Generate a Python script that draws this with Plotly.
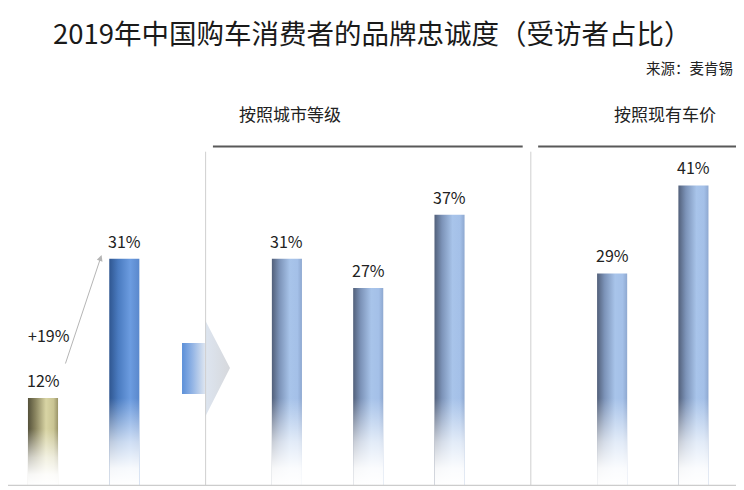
import plotly.graph_objects as go

# ---- data -----------------------------------------------------------------
TITLE = "2019年中国购车消费者的品牌忠诚度（受访者占比）"
SOURCE = "来源：麦肯锡"
GROUP_HEADERS = ["按照城市等级", "按照现有车价"]

OVERALL = [12, 31]          # before / after, share of respondents (%)
BY_CITY = [31, 27, 37]      # by city tier (%)
BY_PRICE = [29, 41]         # by current car price (%)
GROWTH = "+19%"

# ---- layout / style -------------------------------------------------------
OVERALL_X = [0, 1]
CITY_X = [3, 4, 5]
PRICE_X = [7, 8]
HALF = 0.185                 # half bar width in x units
X_RANGE = [-0.4305, 8.622]
Y_RANGE = [0, 65.2]
FONT = "Noto Sans CJK SC, Noto Sans, sans-serif"

OLIVE = [[0, "#54513a"], [0.25, "#8a8560"], [0.6, "#d8d4a4"],
         [0.85, "#c9c493"], [1, "#9a9469"]]
BRIGHT = [[0, "#2f5690"], [0.3, "#4a7bc0"], [0.7, "#6c9ce0"], [1, "#5a88cc"]]
STEEL = [[0, "#52607a"], [0.25, "#7c93b8"], [0.6, "#a8c4ea"],
         [0.85, "#a4c0e8"], [1, "#8ea8d0"]]
FADE = [[0, "rgba(255,255,255,1)"], [0.2, "rgba(255,255,255,0.95)"],
        [0.5, "rgba(255,255,255,0.68)"], [1, "rgba(255,255,255,0)"]]


def add_bar(fig, x, v, scale):
    xs = [x - HALF, x + HALF, x + HALF, x - HALF, x - HALF]
    fig.add_trace(go.Scatter(
        x=xs, y=[0, 0, v, v, 0], mode="lines", line=dict(width=0),
        fill="toself",
        fillgradient=dict(type="horizontal", colorscale=scale,
                          start=x - HALF, stop=x + HALF),
        hovertemplate="%{text}<extra></extra>", text=["{}%".format(v)] * 5,
        showlegend=False))
    # white fade towards the baseline
    top = min(12, v * 0.65)
    fig.add_trace(go.Scatter(
        x=xs, y=[0, 0, top, top, 0], mode="lines", line=dict(width=0),
        fill="toself",
        fillgradient=dict(type="vertical", colorscale=FADE, start=0, stop=top),
        hoverinfo="skip", showlegend=False))
    fig.add_annotation(x=x, y=v, text="{}%".format(v), showarrow=False,
                       yanchor="bottom", yshift=4,
                       font=dict(size=16, color="#222222"))


fig = go.Figure()

# separators and header rules
for sx in (2.0, 6.0):
    fig.add_shape(type="line", x0=sx, x1=sx, y0=0, y1=45.6,
                  line=dict(color="#cfcfcf", width=1))
fig.add_shape(type="line", x0=2.09, x1=5.9, y0=46.3, y1=46.3,
              line=dict(color="#595959", width=2))
fig.add_shape(type="line", x0=6.09, x1=8.58, y0=46.3, y1=46.3,
              line=dict(color="#595959", width=2))

# block arrow between the overall pair and the breakdowns
fig.add_trace(go.Scatter(
    x=[1.71, 1.993, 1.993, 2.30, 1.993, 1.993, 1.71, 1.71],
    y=[19.5, 19.5, 22.65, 16.1, 9.41, 12.55, 12.55, 19.5],
    mode="lines", line=dict(width=0), fill="toself",
    fillgradient=dict(type="horizontal",
                      colorscale=[[0, "#5b8fd8"], [0.22, "#94b5e5"],
                                  [0.48, "#dde5f0"], [1, "#d6d8dc"]]),
    hoverinfo="skip", showlegend=False))

add_bar(fig, OVERALL_X[0], OVERALL[0], OLIVE)
add_bar(fig, OVERALL_X[1], OVERALL[1], BRIGHT)
for x, v in zip(CITY_X, BY_CITY):
    add_bar(fig, x, v, STEEL)
for x, v in zip(PRICE_X, BY_PRICE):
    add_bar(fig, x, v, STEEL)

# baseline
fig.add_shape(type="line", x0=-0.47, x1=8.56, y0=0, y1=0,
              line=dict(color="#cccccc", width=2.5))

# growth arrow 12% -> 31%
fig.add_annotation(x=OVERALL_X[1] - 0.28, y=OVERALL[1] + 0.5,
                   ax=OVERALL_X[0] + 0.27, ay=OVERALL[0] + 4.5,
                   axref="x", ayref="y", text="", showarrow=True,
                   arrowhead=2, arrowsize=1.2, arrowwidth=1,
                   arrowcolor="#b5b5b5")
fig.add_annotation(x=0.07, y=20.6, text=GROWTH, showarrow=False,
                   font=dict(size=16, color="#222222"))

# headers, title, source
fig.add_annotation(x=3.04, y=50.8, text=GROUP_HEADERS[0], showarrow=False,
                   font=dict(size=17, color="#222222"))
fig.add_annotation(x=7.65, y=50.8, text=GROUP_HEADERS[1], showarrow=False,
                   font=dict(size=17, color="#222222"))
fig.add_annotation(x=0.4946, y=0.95, xref="paper", yref="paper", text=TITLE,
                   xanchor="center", yanchor="middle", showarrow=False,
                   font=dict(size=27.5, color="#1a1a1a"))
fig.add_annotation(x=0.988, y=0.8745, xref="paper", yref="paper", text=SOURCE,
                   xanchor="right", yanchor="middle", showarrow=False,
                   font=dict(size=14.5, color="#222222"))

fig.update_xaxes(range=X_RANGE, visible=False, fixedrange=True)
fig.update_yaxes(range=Y_RANGE, visible=False, fixedrange=True)
fig.update_layout(
    width=736, height=482, margin=dict(l=0, r=0, t=0, b=4),
    paper_bgcolor="white", plot_bgcolor="white",
    font=dict(family=FONT), showlegend=False)

fig.write_html("out.html")
